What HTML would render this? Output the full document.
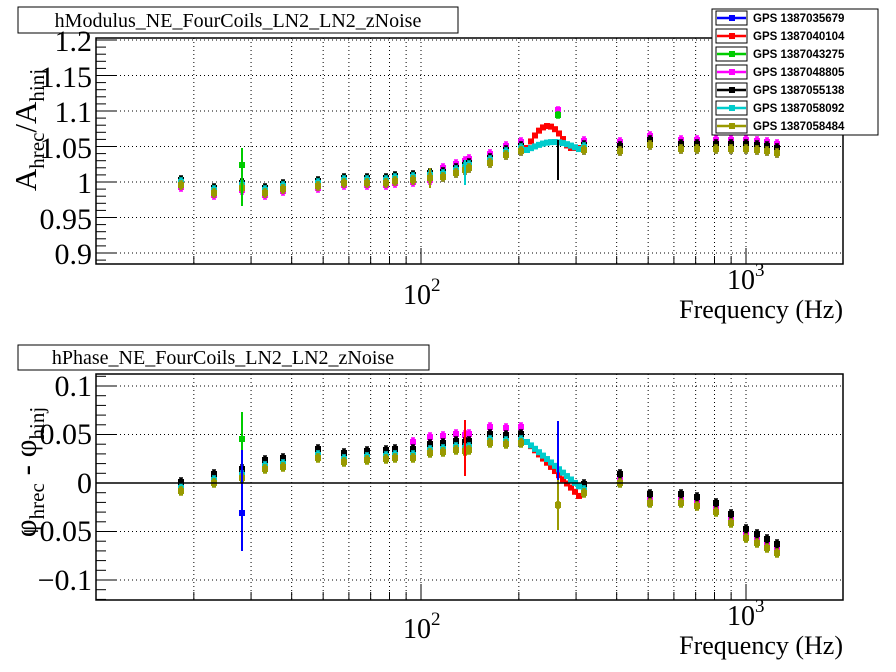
<!DOCTYPE html>
<html><head><meta charset="utf-8"><style>
html,body{margin:0;padding:0;background:#fff;}
svg{display:block;}
svg text{font-family:"Liberation Serif",serif;}
svg text.lg{font-family:"Liberation Sans",sans-serif;font-weight:bold;font-size:11.5px;}
</style></head><body>
<svg id="s" width="896" height="672" viewBox="0 0 896 672" xmlns="http://www.w3.org/2000/svg">
<rect width="896" height="672" fill="#fff"/>
<g id="grid" stroke="#000" stroke-width="1" stroke-dasharray="1,3"></g>
<g id="axes" stroke="#000" fill="none"></g>
<g id="data"></g>
<rect x="96" y="38" width="747" height="226" fill="none" stroke="#000" stroke-width="1.5"/>
<rect x="96" y="374" width="747" height="226" fill="none" stroke="#000" stroke-width="1.5"/>
<line x1="96" y1="483" x2="843" y2="483" stroke="#000" stroke-width="1.5"/>
<!-- y titles -->
<text transform="translate(36,130) rotate(-90)" font-size="31" text-anchor="middle">A<tspan font-size="21" dy="8">hrec</tspan><tspan dy="-8">/A</tspan><tspan font-size="21" dy="8">hinj</tspan></text>
<text transform="translate(36,472) rotate(-90)" font-size="31" text-anchor="middle">φ<tspan font-size="21" dy="8">hrec</tspan><tspan dy="-8"> - φ</tspan><tspan font-size="21" dy="8">hinj</tspan></text>
<!-- titles -->
<rect x="18" y="7" width="440" height="26" fill="#fff" stroke="#000"/>
<text x="238" y="27" font-size="20" text-anchor="middle">hModulus_NE_FourCoils_LN2_LN2_zNoise</text>
<rect x="18" y="345" width="411" height="25" fill="#fff" stroke="#000"/>
<text x="223" y="364" font-size="20" text-anchor="middle">hPhase_NE_FourCoils_LN2_LN2_zNoise</text>
<g font-size="30" text-anchor="end">
<text x="92" y="51">1.2</text>
<text x="92" y="87">1.15</text>
<text x="92" y="122">1.1</text>
<text x="92" y="158">1.05</text>
<text x="92" y="193">1</text>
<text x="92" y="229">0.95</text>
<text x="92" y="264">0.9</text>
<text x="92" y="396">0.1</text>
<text x="92" y="444">0.05</text>
<text x="92" y="493">0</text>
<text x="92" y="541">−0.05</text>
<text x="92" y="590">−0.1</text>
</g>
<g font-size="28">
<text x="403" y="304">10<tspan font-size="19" dy="-13">2</tspan></text>
<text x="727" y="289">10<tspan font-size="19" dy="-13">3</tspan></text>
<text x="843" y="318" text-anchor="end" font-size="26">Frequency (Hz)</text>
<text x="403" y="638">10<tspan font-size="19" dy="-13">2</tspan></text>
<text x="727" y="625">10<tspan font-size="19" dy="-13">3</tspan></text>
<text x="843" y="654" text-anchor="end" font-size="26">Frequency (Hz)</text>
</g>
<rect x="712" y="9" width="166" height="126" fill="#fff" stroke="#000"/>
<g id="leg"></g>
<g>
<text class="lg" x="753" y="22">GPS 1387035679</text>
<text class="lg" x="753" y="40">GPS 1387040104</text>
<text class="lg" x="753" y="58">GPS 1387043275</text>
<text class="lg" x="753" y="76">GPS 1387048805</text>
<text class="lg" x="753" y="94">GPS 1387055138</text>
<text class="lg" x="753" y="112">GPS 1387058092</text>
<text class="lg" x="753" y="130">GPS 1387058484</text>
</g>
<script>
(function(){
var NS="http://www.w3.org/2000/svg";
function el(p,t,a){var e=document.createElementNS(NS,t);for(var k in a)e.setAttribute(k,a[k]);p.appendChild(e);return e;}
var grid=document.getElementById('grid'),axes=document.getElementById('axes'),data=document.getElementById('data'),leg=document.getElementById('leg');
function X(f){return 96+325*Math.log10(f/10);}
var fs=[20,30,40,50,60,70,80,90,100,200,300,400,500,600,700,800,900,1000,2000];
[[38,264],[374,600]].forEach(function(fr){
 fs.forEach(function(f){var x=X(f);if(x<842){el(grid,'line',{x1:x,y1:fr[0],x2:x,y2:fr[1]});
  var L=(f==100||f==1000)?16:8; el(axes,'line',{x1:x,y1:fr[1],x2:x,y2:fr[1]-L});}});
});
for(var i=0;i<=32;i++){var v=0.88+i*0.01;var y=182-(v-1)*710;if(y<38||y>264)continue;
 var maj=(Math.round(v*100)%5==0);
 el(axes,'line',{x1:96,y1:y,x2:96+(maj?20:10),y2:y});
 if(maj) el(grid,'line',{x1:96,y1:y,x2:843,y2:y});}
for(var i=-12;i<=11;i++){var v=i*0.01;var y=483-v*970;if(y<374||y>600)continue;
 var maj=(i%5==0);el(axes,'line',{x1:96,y1:y,x2:96+(maj?20:10),y2:y});
 if(maj&&i!=0) el(grid,'line',{x1:96,y1:y,x2:843,y2:y});}
var C=['#0000ff','#ff0000','#00cc00','#ff00ff','#000000','#00cccc','#999900'];
C.forEach(function(c,i){var y=18+18*i;el(leg,'line',{x1:717,y1:y,x2:746,y2:y,stroke:c,'stroke-width':2.5});el(leg,'rect',{x:729,y:y-3,width:6,height:6,fill:c});
 el(leg,'rect',{x:716,y:y-7,width:31,height:14,fill:'none',stroke:'#000','stroke-width':1});});
var pts=[[181,182,488],[214,190,480],[242,185,475],[265,190,466],[283,186,464],[318,183,455],[344,180,459],[367,180,457],[386,180,456],[395,178,455],[413,177,455],[430,175,450],[443,174,449],[456,170,447],[465,167,448],[469,165,447],[490,160,440],[506,152,441],[521,148,440],[584,147,490],[620,148,480],[650,142,500],[681,146,500],[697,146,503],[716,146,509],[731,146,520],[746,146,535],[757,147,540],[767,148,545],[777,150,550]];
var offT=[3,0,-1,0,-2,0,3],offB=[2,0,2,0,-6,0,3];
function mk(c,x,y,e){el(data,'line',{x1:x,y1:y-e,x2:x,y2:y+e,stroke:c,'stroke-width':2});
 el(data,'line',{x1:x-2,y1:y-e,x2:x+2,y2:y-e,stroke:c,'stroke-width':1.5});
 el(data,'line',{x1:x-2,y1:y+e,x2:x+2,y2:y+e,stroke:c,'stroke-width':1.5});
 el(data,'rect',{x:x-3,y:y-3,width:6,height:6,fill:c});}
C.forEach(function(c,s){
 pts.forEach(function(p){var x=p[0];
  var ot=offT[s],ob=offB[s];
  if(s==3){ot=x>440?-6:5;ob=(x>400&&x<530)?-13:-3;}
  if(s==5&&x>584)return;
  mk(c,x,p[1]+ot,4);mk(c,x,p[2]+ob,4);});
 if(s==1||s==5){for(var x=527;x<=581;x+=4){var t=(x-527)/54;
   var yt=s==1?148-22*Math.sin(Math.PI*Math.min(t*1.3,1)):146-8*Math.sin(Math.PI*t)+4;
   var yb=s==1?442+t*56:442+t*46;
   mk(c,x,yt,2);mk(c,x,yb,2);}}
});
mk('#00cc00',242,165,0);el(data,'line',{x1:242,y1:148,x2:242,y2:206,stroke:'#00cc00','stroke-width':2});
el(data,'line',{x1:242,y1:412,x2:242,y2:468,stroke:'#00cc00','stroke-width':2});mk('#00cc00',242,439,0);
el(data,'line',{x1:242,y1:450,x2:242,y2:551,stroke:'#0000ff','stroke-width':2});mk('#0000ff',242,513,0);
el(data,'line',{x1:558,y1:140,x2:558,y2:180,stroke:'#000','stroke-width':2});mk('#ff00ff',558,110,3);mk('#00cc00',558,115,3);
el(data,'line',{x1:558,y1:421,x2:558,y2:483,stroke:'#0000ff','stroke-width':2});
el(data,'line',{x1:558,y1:480,x2:558,y2:530,stroke:'#999900','stroke-width':2});mk('#999900',558,505,3);
el(data,'line',{x1:465,y1:160,x2:465,y2:185,stroke:'#00cccc','stroke-width':2});
el(data,'line',{x1:465,y1:420,x2:465,y2:476,stroke:'#ff0000','stroke-width':2});
el(data,'line',{x1:430,y1:168,x2:430,y2:188,stroke:'#999900','stroke-width':2});
})();
</script>
</svg>
</body></html>
